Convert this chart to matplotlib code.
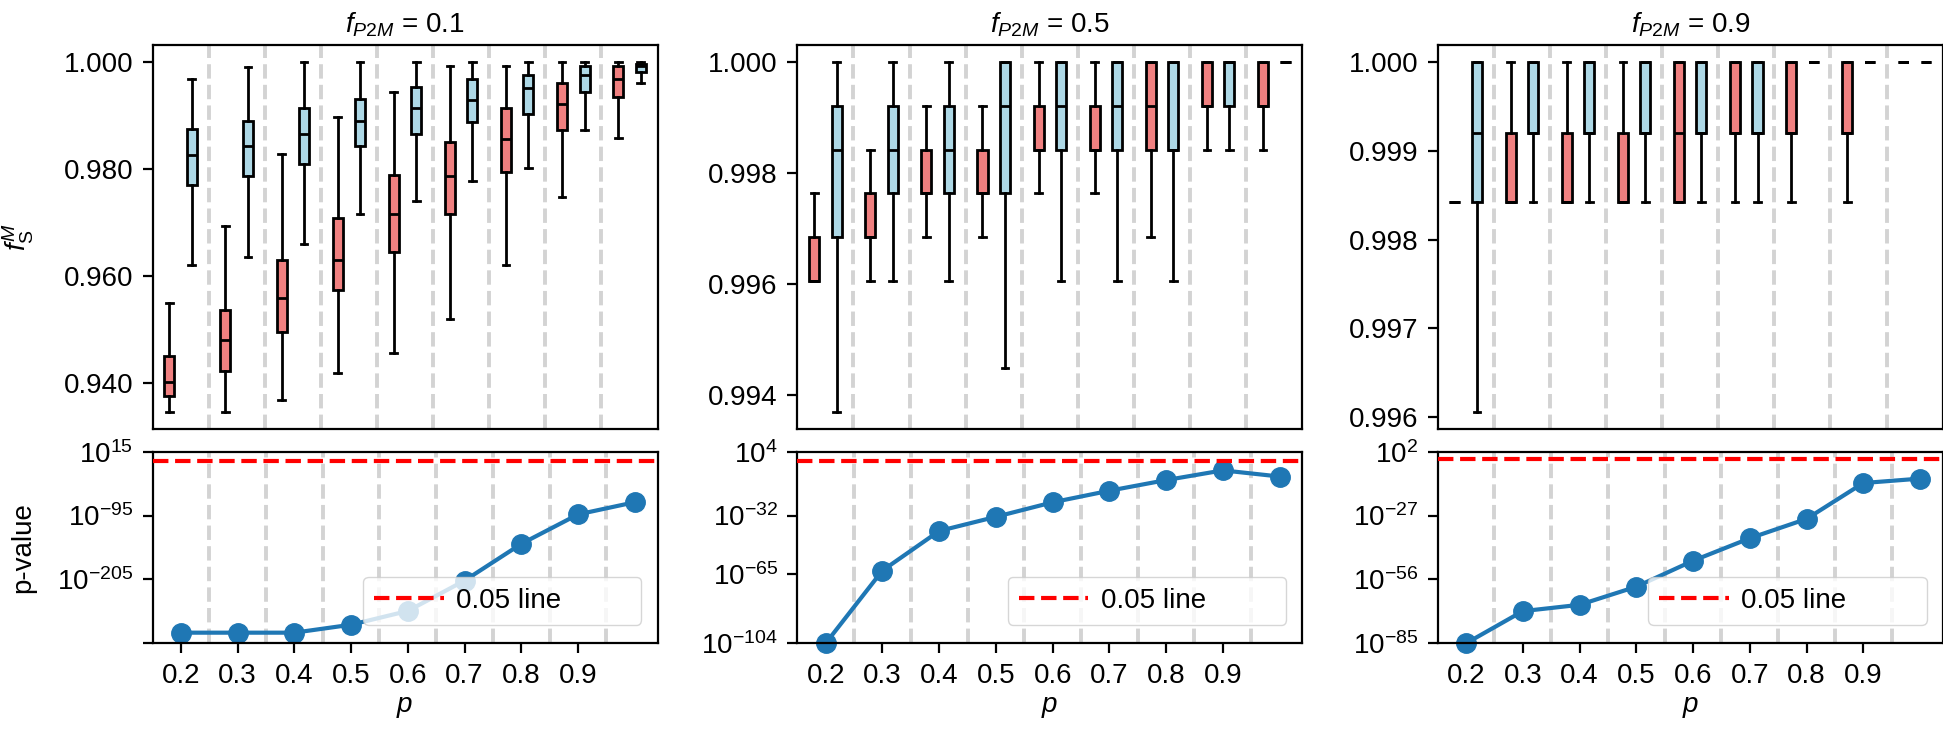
import matplotlib
matplotlib.use("Agg")
import matplotlib.pyplot as plt
from matplotlib.ticker import MultipleLocator, FormatStrFormatter, FixedLocator, FixedFormatter, NullLocator

plt.rcParams['font.family'] = ['Liberation Sans', 'DejaVu Sans']
plt.rcParams['mathtext.fontset'] = 'custom'
plt.rcParams['mathtext.rm'] = 'Liberation Sans'
plt.rcParams['mathtext.it'] = 'Liberation Sans:italic'
plt.rcParams['mathtext.bf'] = 'Liberation Sans:bold'
plt.rcParams['font.size'] = 20
plt.rcParams['axes.linewidth'] = 1.6

# ---- data ----
p_vals = [0.2, 0.3, 0.4, 0.5, 0.6, 0.7, 0.8, 0.9, 1.0]
p_ticks = [0.2, 0.3, 0.4, 0.5, 0.6, 0.7, 0.8, 0.9]
f_p2m = ['0.1', '0.5', '0.9']

# f_P2M = 0.1, boxes: whisker low, q1, median, q3, whisker high
red1_lo = [0.9347, 0.9347, 0.9370, 0.9419, 0.9457, 0.9520, 0.9622, 0.9748, 0.9858]
red1_q1 = [0.9376, 0.9424, 0.9496, 0.9574, 0.9646, 0.9716, 0.9795, 0.9873, 0.9936]
red1_med = [0.9402, 0.9481, 0.9559, 0.9631, 0.9717, 0.9787, 0.9857, 0.9922, 0.9969]
red1_q3 = [0.9451, 0.9537, 0.9631, 0.9709, 0.9789, 0.9851, 0.9915, 0.9961, 0.9994]
red1_hi = [0.9551, 0.9694, 0.9828, 0.9898, 0.9945, 0.9994, 0.9994, 1.0, 1.0]

blue1_lo = [0.9622, 0.9637, 0.9661, 0.9716, 0.9741, 0.9779, 0.9802, 0.9874, 0.9961]
blue1_q1 = [0.9771, 0.9787, 0.9811, 0.9844, 0.9866, 0.9889, 0.9904, 0.9944, 0.9982]
blue1_med = [0.9827, 0.9844, 0.9867, 0.9890, 0.9915, 0.9930, 0.9953, 0.9976, 0.9994]
blue1_q3 = [0.9875, 0.9890, 0.9915, 0.9931, 0.9954, 0.9969, 0.9976, 0.9994, 0.9998]
blue1_hi = [0.9969, 0.9992, 1.0, 1.0, 1.0, 1.0, 1.0, 1.0, 1.0]

# f_P2M = 0.5
red2_lo = [0.99606, 0.99606, 0.99685, 0.99685, 0.99764, 0.99764, 0.99685, 0.99843, 0.99843]
red2_q1 = [0.99606, 0.99685, 0.99764, 0.99764, 0.99843, 0.99843, 0.99843, 0.99921, 0.99921]
red2_med = [0.99606, 0.99685, 0.99764, 0.99764, 0.99843, 0.99843, 0.99921, 0.99921, 0.99921]
red2_q3 = [0.99685, 0.99764, 0.99843, 0.99843, 0.99921, 0.99921, 1.0, 1.0, 1.0]
red2_hi = [0.99764, 0.99843, 0.99921, 0.99921, 1.0, 1.0, 1.0, 1.0, 1.0]

blue2_lo = [0.99370, 0.99606, 0.99606, 0.99449, 0.99606, 0.99606, 0.99606, 0.99843, 1.0]
blue2_q1 = [0.99685, 0.99764, 0.99764, 0.99764, 0.99843, 0.99843, 0.99843, 0.99921, 1.0]
blue2_med = [0.99843, 0.99843, 0.99843, 0.99921, 0.99921, 0.99921, 0.99843, 1.0, 1.0]
blue2_q3 = [0.99921, 0.99921, 0.99921, 1.0, 1.0, 1.0, 1.0, 1.0, 1.0]
blue2_hi = [1.0, 1.0, 1.0, 1.0, 1.0, 1.0, 1.0, 1.0, 1.0]

# f_P2M = 0.9
red3_lo = [0.99843, 0.99843, 0.99843, 0.99843, 0.99843, 0.99843, 0.99843, 0.99843, 1.0]
red3_q1 = [0.99843, 0.99843, 0.99843, 0.99843, 0.99843, 0.99921, 0.99921, 0.99921, 1.0]
red3_med = [0.99843, 0.99843, 0.99843, 0.99843, 0.99921, 0.99921, 0.99921, 0.99921, 1.0]
red3_q3 = [0.99843, 0.99921, 0.99921, 0.99921, 1.0, 1.0, 1.0, 1.0, 1.0]
red3_hi = [0.99843, 1.0, 1.0, 1.0, 1.0, 1.0, 1.0, 1.0, 1.0]

blue3_lo = [0.99606, 0.99843, 0.99843, 0.99843, 0.99843, 0.99843, 1.0, 1.0, 1.0]
blue3_q1 = [0.99843, 0.99921, 0.99921, 0.99921, 0.99921, 0.99921, 1.0, 1.0, 1.0]
blue3_med = [0.99921, 0.99921, 0.99921, 0.99921, 0.99921, 0.99921, 1.0, 1.0, 1.0]
blue3_q3 = [1.0, 1.0, 1.0, 1.0, 1.0, 1.0, 1.0, 1.0, 1.0]
blue3_hi = [1.0, 1.0, 1.0, 1.0, 1.0, 1.0, 1.0, 1.0, 1.0]

# p-values
pval1 = [2e-297, 2e-297, 2e-297, 1e-283, 5e-260, 1e-207, 2e-144, 1e-93, 1e-72]
pval2 = [1e-104, 1e-63, 2e-41, 2e-33, 3e-25, 1e-18, 1e-12, 3e-7, 1e-10]
pval3 = [1e-85, 4e-71, 3e-68, 5e-60, 3e-48, 5e-38, 3e-29, 6e-13, 6e-11]

ytick_vals = [[1e-315, 1e-205, 1e-95, 1e15], [1e-104, 1e-65, 1e-32, 1e4], [1e-85, 1e-56, 1e-27, 1e2]]
ytick_txt = [['', r'$10^{-205}$', r'$10^{-95}$', r'$10^{15}$'],
             [r'$10^{-104}$', r'$10^{-65}$', r'$10^{-32}$', r'$10^{4}$'],
             [r'$10^{-85}$', r'$10^{-56}$', r'$10^{-27}$', r'$10^{2}$']]
top_steps = [0.02, 0.002, 0.001]

red_sets = [(red1_lo, red1_q1, red1_med, red1_q3, red1_hi),
            (red2_lo, red2_q1, red2_med, red2_q3, red2_hi),
            (red3_lo, red3_q1, red3_med, red3_q3, red3_hi)]
blue_sets = [(blue1_lo, blue1_q1, blue1_med, blue1_q3, blue1_hi),
             (blue2_lo, blue2_q1, blue2_med, blue2_q3, blue2_hi),
             (blue3_lo, blue3_q1, blue3_med, blue3_q3, blue3_hi)]
pvals = [pval1, pval2, pval3]
sep_lines = [0.25, 0.35, 0.45, 0.55, 0.65, 0.75, 0.85, 0.95]


def make_stats(lo, q1, med, q3, hi):
    return [dict(whislo=a, q1=b, med=c, q3=d, whishi=e, fliers=[])
            for a, b, c, d, e in zip(lo, q1, med, q3, hi)]


def draw_boxes(ax, stats, pos, color):
    ax.bxp(stats, positions=pos, widths=0.018, capwidths=0.012,
           patch_artist=True, showfliers=False, manage_ticks=False,
           boxprops=dict(facecolor=color, edgecolor='black', linewidth=2),
           medianprops=dict(color='black', linewidth=2, solid_capstyle='butt'),
           whiskerprops=dict(color='black', linewidth=2),
           capprops=dict(color='black', linewidth=2), zorder=3)


W, H = 1943, 730
fig = plt.figure(figsize=(W / 100, H / 100), dpi=100)
lefts = [152.5, 797.3, 1437.7]
aw = 505

for i in range(3):
    ax_top = fig.add_axes([lefts[i] / W, 1 - 429.3 / H, aw / W, (429.3 - 45) / H])
    ax_bot = fig.add_axes([lefts[i] / W, 1 - 643.3 / H, aw / W, (643.3 - 451.7) / H])

    # top: boxplots
    for x in sep_lines:
        ax_top.axvline(x, color='lightgray', linestyle='--', linewidth=2.8, zorder=0)
    draw_boxes(ax_top, make_stats(*red_sets[i]), [p - 0.02 for p in p_vals], 'lightcoral')
    draw_boxes(ax_top, make_stats(*blue_sets[i]), [p + 0.02 for p in p_vals], 'lightblue')
    ax_top.set_xlim(0.15, 1.05)
    ax_top.set_xticks([])
    ax_top.yaxis.set_major_locator(MultipleLocator(top_steps[i]))
    ax_top.yaxis.set_major_formatter(FormatStrFormatter('%.3f'))
    ax_top.tick_params(axis='y', length=7, width=1.6, pad=7, labelsize=20)
    ax_top.set_title(r'$f_{\mathit{P2M}}$ = ' + f_p2m[i], fontsize=20, pad=9)

    # bottom: p-values
    for x in sep_lines:
        ax_bot.axvline(x, color='lightgray', linestyle='--', linewidth=2.8, zorder=0)
    ax_bot.plot(p_vals, pvals[i], marker='o', color='#1f77b4', linewidth=3,
                markersize=14, zorder=2, clip_on=False)
    ax_bot.axhline(0.05, color='red', linestyle='--', linewidth=3, label='0.05 line', zorder=3)
    ax_bot.set_yscale('log')
    ax_bot.set_ylim(ytick_vals[i][0], ytick_vals[i][-1])
    ax_bot.yaxis.set_major_locator(FixedLocator(ytick_vals[i]))
    ax_bot.yaxis.set_major_formatter(FixedFormatter(ytick_txt[i]))
    ax_bot.yaxis.set_minor_locator(NullLocator())
    ax_bot.set_xlim(0.15, 1.04)
    ax_bot.set_xticks(p_ticks)
    ax_bot.set_xticklabels([f'{v:.1f}' for v in p_ticks])
    ax_bot.tick_params(length=7, width=1.6, pad=7, labelsize=20)
    ax_bot.set_xlabel(r'$p$', fontsize=20, labelpad=4)
    leg = ax_bot.legend(loc='lower left', bbox_to_anchor=(0.417, 0.096, 0.551, 0.31),
                        mode='expand', borderaxespad=0, handlelength=2.5,
                        handletextpad=0.45, fontsize=20, framealpha=0.8)
    leg.set_zorder(5)

    if i == 0:
        ax_top.set_ylabel(r'$f_{\mathrm{S}}^{M}$', fontsize=20)
        ax_top.yaxis.set_label_coords(-0.23, 0.5)
        ax_bot.set_ylabel('p-value', fontsize=20)
        ax_bot.yaxis.set_label_coords(-0.23, 0.5)

fig.savefig('out.png', dpi=100)
